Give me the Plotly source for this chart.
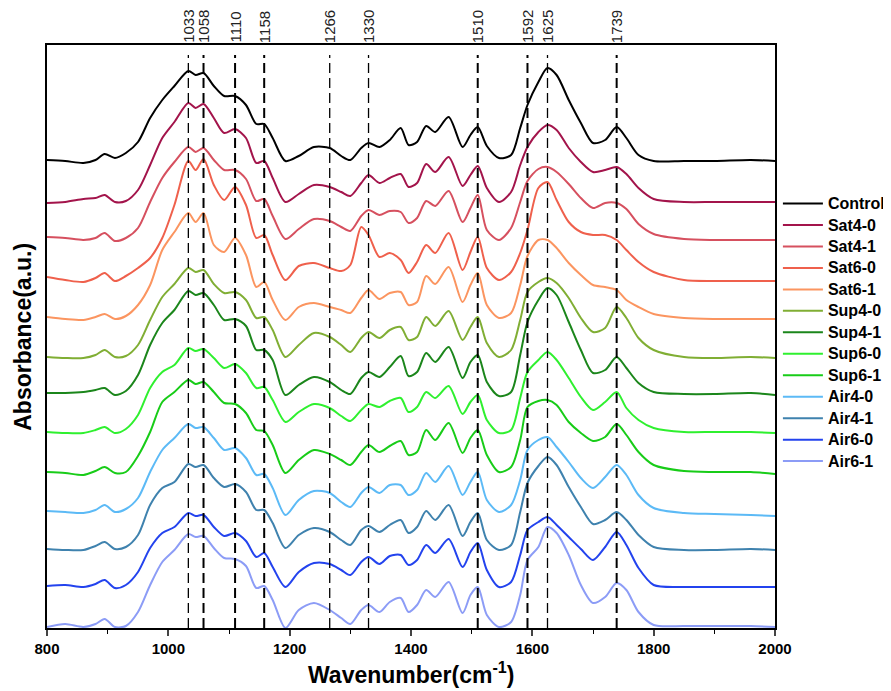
import plotly.graph_objects as go

# FTIR spectra, stacked with a vertical offset per sample
wavenumber = [800, 830, 860, 880, 895, 912, 930, 950, 970, 990,
              1010, 1033, 1045, 1058, 1075, 1092, 1110, 1128, 1145, 1158,
              1172, 1193, 1215, 1240, 1266, 1285, 1300, 1318, 1330, 1348,
              1365, 1383, 1396, 1410, 1425, 1440, 1462, 1485, 1498, 1510,
              1525, 1545, 1565, 1580, 1592, 1610, 1625, 1640, 1660, 1680,
              1700, 1720, 1739, 1755, 1775, 1800, 1850, 1900, 1960, 2000]

sample_names = ["Control", "Sat4-0", "Sat4-1", "Sat6-0", "Sat6-1",
                "Sup4-0", "Sup4-1", "Sup6-0", "Sup6-1",
                "Air4-0", "Air4-1", "Air6-0", "Air6-1"]

offsets = [468, 425, 391, 351, 311, 271, 235, 196, 156, 117, 79, 42, 1]

control = [0, -1, -3, 0, 6, 2, 7, 18, 42, 60,
           74, 89, 85, 87, 74, 64, 64, 55, 36, 36,
           22, -1, 4, 13, 12, 4, 0, 12, 17, 13,
           20, 32, 15, 18, 34, 28, 43, 13, 25, 33,
           14, 2, 5, 32, 55, 78, 92, 85, 60, 37,
           17, 20, 33, 22, 5, -1, -1, -1, 0, -1]
sat4_0 = [0, 1, 4, 5, 8, 1, 2, 13, 38, 65,
          81, 100, 95, 99, 85, 70, 74, 65, 40, 42,
          25, 1, 9, 18, 16, 11, 7, 20, 28, 20,
          25, 29, 16, 20, 39, 31, 46, 17, 28, 37,
          15, 1, 11, 38, 56, 71, 78, 73, 55, 41,
          31, 33, 36, 29, 15, 4, 1, 1, 1, 1]
sat4_1 = [0, -1, -3, -1, 4, -4, -1, 9, 35, 59,
          75, 90, 85, 89, 77, 67, 67, 58, 36, 38,
          21, -2, 8, 18, 16, 10, 6, 21, 27, 22,
          26, 25, 14, 19, 36, 31, 46, 15, 29, 42,
          7, -3, 9, 35, 56, 68, 70, 65, 53, 39,
          29, 34, 34, 28, 13, 3, -2, -3, -3, -3]
sat6_0 = [0, -3, -5, -1, 4, -4, 1, 9, 19, 39,
          72, 116, 107, 118, 92, 77, 90, 72, 39, 42,
          22, -3, 11, 14, 9, 6, 12, 50, 42, 20,
          24, 17, 4, 15, 32, 24, 44, 7, 25, 40,
          9, -3, 5, 24, 47, 89, 95, 77, 55, 45,
          42, 42, 37, 27, 15, 5, -3, -4, -4, -4]
sat6_1 = [0, -2, -3, 0, 3, -2, 1, 12, 32, 67,
          85, 104, 95, 104, 72, 65, 79, 62, 30, 35,
          17, -3, 10, 14, 10, 7, 4, 19, 27, 18,
          24, 25, 12, 15, 41, 33, 50, 15, 32, 44,
          12, -1, 4, 32, 61, 77, 77, 69, 54, 42,
          32, 30, 27, 17, 10, 3, -1, -2, -2, -2]
sup4_0 = [0, -1, -1, 2, 7, 0, 1, 12, 37, 60,
          73, 89, 85, 87, 73, 64, 65, 57, 39, 40,
          27, 0, 12, 24, 20, 12, 5, 19, 25, 19,
          27, 30, 17, 20, 40, 31, 46, 17, 30, 40,
          14, 0, 7, 37, 65, 75, 79, 74, 59, 39,
          25, 29, 50, 39, 19, 7, 0, -1, 0, -1]
sup4_1 = [0, 0, 1, 3, 5, -2, 2, 18, 48, 70,
          83, 102, 98, 100, 88, 73, 74, 67, 43, 43,
          33, -2, 8, 16, 11, 3, -1, 15, 21, 16,
          26, 37, 17, 21, 40, 31, 46, 15, 31, 38,
          11, -3, 1, 38, 71, 93, 105, 98, 71, 43,
          20, 23, 36, 25, 10, 1, -1, -1, 0, -2]
sup6_0 = [0, -1, -1, 2, 5, -1, 3, 17, 44, 60,
          67, 84, 81, 83, 74, 64, 68, 59, 44, 45,
          32, 10, 20, 28, 24, 16, 11, 22, 28, 25,
          31, 34, 20, 25, 40, 34, 46, 18, 30, 37,
          12, -1, 2, 34, 60, 72, 80, 72, 54, 35,
          22, 30, 40, 24, 12, 4, 0, 0, 0, -1]
sup6_1 = [0, -1, -3, 1, 5, -1, 0, 16, 40, 70,
          80, 92, 88, 90, 80, 69, 68, 59, 42, 41,
          27, -1, 12, 22, 18, 12, 7, 20, 27, 20,
          26, 31, 17, 20, 42, 32, 49, 19, 34, 42,
          17, 0, 5, 32, 65, 71, 72, 67, 50, 39,
          31, 35, 48, 37, 20, 7, 1, 0, 0, -2]
air4_0 = [0, -1, -2, 1, 6, -1, 2, 13, 39, 61,
          73, 87, 83, 84, 73, 61, 63, 53, 36, 37,
          23, -4, 11, 20, 18, 9, 4, 18, 24, 18,
          26, 26, 16, 21, 38, 29, 45, 16, 29, 39,
          11, -1, 6, 31, 61, 71, 74, 64, 49, 33,
          23, 34, 46, 36, 16, 3, -2, -3, -4, -5]
air4_1 = [0, -1, -1, 3, 7, 0, 2, 14, 44, 61,
          67, 85, 82, 84, 71, 62, 65, 57, 39, 39,
          26, 1, 14, 21, 17, 9, 4, 19, 23, 17,
          24, 29, 16, 22, 38, 29, 44, 13, 27, 36,
          9, -1, 4, 37, 66, 83, 92, 84, 62, 42,
          25, 29, 37, 29, 14, 2, -1, -1, 0, -1]
air6_0 = [0, 1, -1, 2, 6, -2, 1, 14, 38, 53,
          59, 73, 70, 71, 59, 50, 53, 45, 29, 33,
          19, -1, 14, 23, 22, 16, 11, 24, 29, 22,
          30, 31, 21, 26, 41, 33, 47, 19, 34, 43,
          16, -1, 4, 31, 56, 64, 69, 61, 49, 37,
          26, 39, 54, 41, 18, 1, -1, -1, -1, -1]
air6_1 = [0, 3, 0, 3, 8, 0, 1, 15, 42, 65,
          77, 93, 90, 91, 79, 69, 68, 61, 39, 41,
          27, -1, 17, 24, 17, 9, 3, 17, 22, 15,
          25, 29, 15, 22, 37, 30, 45, 14, 32, 40,
          12, 0, 5, 32, 67, 80, 100, 94, 72, 42,
          24, 30, 44, 37, 15, 2, 1, 1, 1, 0]

spectra = [control, sat4_0, sat4_1, sat6_0, sat6_1, sup4_0, sup4_1,
           sup6_0, sup6_1, air4_0, air4_1, air6_0, air6_1]

# marked band positions (cm-1)
bands = [1033, 1058, 1110, 1158, 1266, 1330, 1510, 1592, 1625, 1739]

colors = ["#000000", "#a3144b", "#d6505f", "#ef604c", "#fb9560",
          "#80ae34", "#1b861b", "#2ff02f", "#18cc18",
          "#5cbaf6", "#3f82ae", "#2343ee", "#8c9cf6"]
thick_bands = {1058, 1110, 1158, 1510, 1592, 1739}
FONT = "Liberation Sans, Arial, sans-serif"

fig = go.Figure()
for name, spec, off, col in zip(sample_names, spectra, offsets, colors):
    fig.add_trace(go.Scatter(
        x=wavenumber, y=[off + v for v in spec],
        name='<span style="font-size:16px">' + name + '</span>', mode="lines",
        line=dict(color=col, width=2, shape="spline", smoothing=0.8)))

for b in bands:
    w = 2 if b in thick_bands else 1.3
    fig.add_shape(type="line", xref="x", yref="paper", x0=b, x1=b, y0=0, y1=0.983,
                  line=dict(color="black", width=w, dash="10px,5px"), layer="above")
    fig.add_annotation(x=b, xref="x", y=1, yref="paper", text=str(b), textangle=-90,
                       showarrow=False, xanchor="center", yanchor="bottom", yshift=0,
                       font=dict(family=FONT, size=15, color="#222"))

fig.add_annotation(x=-0.034, xref="paper", y=0.5, yref="paper", text="<b>Absorbance(a.u.)</b>",
                   textangle=-90, showarrow=False, xanchor="center", yanchor="middle",
                   font=dict(family=FONT, size=23, color="black"))
fig.add_annotation(x=0.5, xref="paper", y=-0.1063, yref="paper",
                   text="<b>Wavenumber(cm<sup>-1</sup>)</b>", showarrow=False,
                   xanchor="center", yanchor="bottom",
                   font=dict(family=FONT, size=23, color="black"))

fig.update_xaxes(range=[800, 2000], dtick=200, tick0=800, ticks="outside", ticklen=6,
                 tickwidth=1.5, showline=True, linewidth=1.8, linecolor="black", mirror=True,
                 showgrid=False, zeroline=False,
                 tickfont=dict(family=FONT, size=15, color="black", weight="bold"),
                 minor=dict(dtick=100, ticks="outside", ticklen=4, tickwidth=1.2, tickcolor="black"))
fig.update_yaxes(range=[0, 583], showticklabels=False, ticks="", showline=True, linewidth=1.8,
                 linecolor="black", mirror=True, showgrid=False, zeroline=False)

# the page body adds an 8 px margin, so the figure is drawn 8 px smaller
fig.update_layout(
    width=883, height=683,
    margin=dict(l=39, r=116, t=37, b=63, autoexpand=False),
    plot_bgcolor="white", paper_bgcolor="white",
    legend=dict(x=1.004, xanchor="left", y=0.755, yanchor="top", itemwidth=40,
                font=dict(family=FONT, size=14.2, color="black", weight="bold"),
                tracegroupgap=0, bgcolor="rgba(0,0,0,0)"),
)

fig.write_html("out.html")
